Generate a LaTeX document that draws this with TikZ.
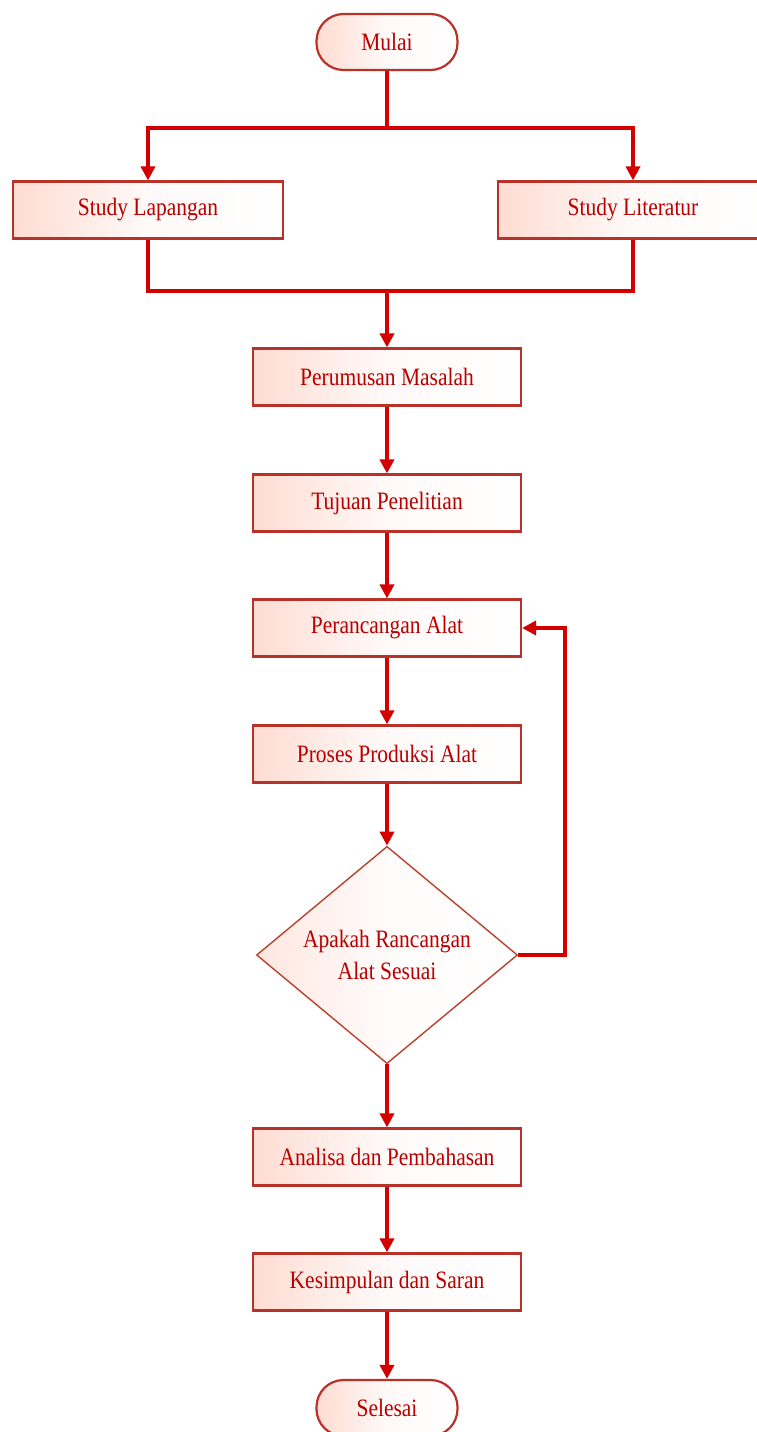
\documentclass[tikz,border=0pt]{standalone}
\usepackage{fontspec}
\usetikzlibrary{shapes.geometric,arrows.meta}
\newfontfamily\boxfont[FakeStretch=0.86]{Liberation Serif}
\definecolor{arrowred}{HTML}{D40000}
\definecolor{borderred}{HTML}{B8322A}
\definecolor{textred}{HTML}{B80000}
\definecolor{fillpink}{HTML}{FFDCD2}
\tikzset{
  procbox/.style={draw=borderred, line width=2.2pt, left color=fillpink, right color=white, middle color=white!85!fillpink,
    minimum width=268pt, minimum height=57pt, inner sep=0pt,
    font=\boxfont\fontsize{25}{32}\selectfont, text=textred},
  termbox/.style={draw=borderred, line width=2.2pt, left color=fillpink, right color=white, middle color=white!85!fillpink,
    rounded corners=27pt, minimum width=141pt, minimum height=56pt, inner sep=0pt,
    font=\boxfont\fontsize{25}{32}\selectfont, text=textred},
  decbox/.style={diamond, draw=borderred!80!brown, line width=1.4pt, left color=fillpink!70, right color=white, middle color=white!90!fillpink,
    minimum width=261pt, minimum height=207pt, inner sep=0pt, align=center,
    font=\boxfont\fontsize{25}{32}\selectfont, text=textred},
  flow/.style={draw=arrowred, line width=4pt},
  flowarrow/.style={flow, -{Triangle[length=14pt,width=14pt]}}
}
\begin{document}
\begin{tikzpicture}[x=1pt,y=-1pt]
\useasboundingbox[fill=white] (0,0) rectangle (757,1432);
\node[termbox] (mulai) at (387,42) {Mulai};
\node[procbox, minimum width=270pt] (lap) at (148,210) {Study Lapangan};
\node[procbox, minimum width=270pt] (lit) at (633,210) {Study Literatur};
\node[procbox] (perum) at (387,377) {Perumusan Masalah};
\node[procbox] (tujuan) at (387,503) {Tujuan Penelitian};
\node[procbox] (peranc) at (387,628) {Perancangan Alat};
\node[procbox] (proses) at (387,754) {Proses Produksi Alat};
\node[decbox] (dec) at (387,955) {Apakah Rancangan\\Alat Sesuai};
\node[procbox] (analisa) at (387,1157) {Analisa dan Pembahasan};
\node[procbox] (kesim) at (387,1282) {Kesimpulan dan Saran};
\node[termbox] (selesai) at (387,1408) {Selesai};
\coordinate (split) at (387,128);
\coordinate (merge) at (387,291);
\coordinate (loop) at (565,955);
\draw[flow] (mulai.south) -- (split);
\draw[flowarrow] (split) -| (lap.north);
\draw[flowarrow] (split) -| (lit.north);
\draw[flow] (lap.south) |- (merge);
\draw[flow] (lit.south) |- (merge);
\draw[flowarrow] (merge) -- (perum.north);
\draw[flowarrow] (perum) -- (tujuan);
\draw[flowarrow] (tujuan) -- (peranc);
\draw[flowarrow] (peranc) -- (proses);
\draw[flowarrow] (proses) -- (dec);
\draw[flowarrow] (dec.east) -- (loop) |- (peranc.east);
\draw[flowarrow] (dec) -- (analisa);
\draw[flowarrow] (analisa) -- (kesim);
\draw[flowarrow] (kesim) -- (selesai);
\end{tikzpicture}
\end{document}
